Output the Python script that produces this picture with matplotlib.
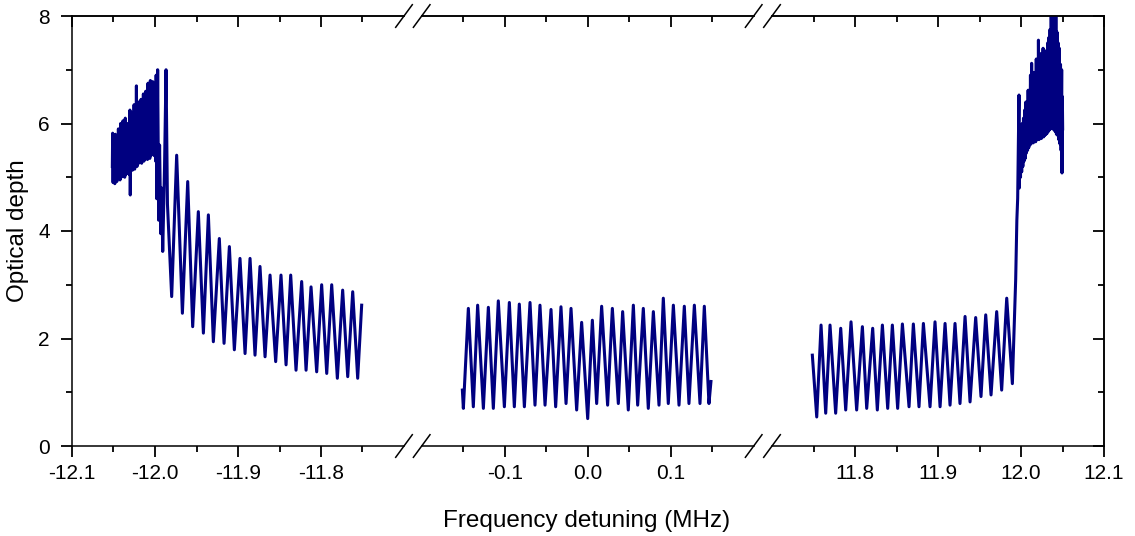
import matplotlib
matplotlib.use("Agg")
import matplotlib.pyplot as plt
from matplotlib.ticker import FixedLocator, FormatStrFormatter

plt.rcParams['font.family'] = ['Liberation Sans', 'DejaVu Sans']
plt.rcParams['axes.unicode_minus'] = False

# ---------------- data ----------------
seg1_x = [
    -12.0514, -12.0510, -12.0505, -12.0500, -12.0495, -12.0490, -12.0484, -12.0478, -12.0472, -12.0466,
    -12.0460, -12.0454, -12.0448, -12.0441, -12.0435, -12.0428, -12.0421, -12.0414, -12.0407, -12.0400,
    -12.0393, -12.0386, -12.0379, -12.0372, -12.0365, -12.0358, -12.0351, -12.0344, -12.0337, -12.0330,
    -12.0323, -12.0316, -12.0309, -12.0302, -12.0298, -12.0292, -12.0286, -12.0280, -12.0273, -12.0266,
    -12.0259, -12.0252, -12.0245, -12.0238, -12.0231, -12.0224, -12.0217, -12.0210, -12.0203, -12.0196,
    -12.0189, -12.0182, -12.0175, -12.0168, -12.0161, -12.0154, -12.0147, -12.0140, -12.0133, -12.0126,
    -12.0119, -12.0112, -12.0105, -12.0098, -12.0091, -12.0084, -12.0077, -12.0070, -12.0063, -12.0056,
    -12.0049, -12.0042, -12.0035, -12.0028, -12.0021, -12.0014, -12.0007, -12.0000, -11.9993, -11.9986,
    -11.9979, -11.9975, -11.9968, -11.9955, -11.9945, -11.9930, -11.9920, -11.9907, -11.9885, -11.9867,
    -11.9850, -11.9799, -11.9739, -11.9670, -11.9606, -11.9546, -11.9478, -11.9417, -11.9357, -11.9297,
    -11.9225, -11.9168, -11.9104, -11.9044, -11.8976, -11.8915, -11.8855, -11.8795, -11.8735, -11.8674,
    -11.8614, -11.8546, -11.8482, -11.8421, -11.8365, -11.8301, -11.8233, -11.8180, -11.8120, -11.8052,
    -11.7992, -11.7931, -11.7871, -11.7803, -11.7739, -11.7678, -11.7618, -11.7558, -11.7510,
]
seg1_y = [
    5.20, 5.82, 4.90, 5.75, 4.95, 5.55, 4.88, 5.80, 5.00, 5.60,
    4.92, 5.70, 4.98, 5.90, 5.05, 5.65, 4.95, 6.00, 5.00, 5.80,
    5.02, 6.05, 5.10, 5.85, 5.00, 6.10, 5.05, 5.90, 5.08, 6.00,
    5.12, 5.85, 5.05, 6.25, 4.67, 6.05, 5.15, 6.20, 5.13, 6.00,
    5.20, 6.35, 5.15, 6.10, 5.22, 6.70, 5.20, 6.20, 5.25, 6.40,
    5.28, 6.15, 5.30, 6.45, 5.26, 6.30, 5.32, 6.55, 5.30, 6.35,
    5.34, 6.60, 5.35, 6.40, 5.33, 6.75, 5.38, 6.50, 5.35, 6.80,
    5.40, 6.55, 5.44, 6.78, 5.42, 6.60, 5.40, 6.72, 5.30, 6.90,
    4.60, 5.30, 7.00, 4.20, 5.60, 3.95, 4.80, 3.62, 5.20, 7.00,
    4.50, 2.78, 5.41, 2.47, 4.92, 2.22, 4.36, 2.10, 4.30, 1.94,
    3.86, 1.91, 3.71, 1.79, 3.49, 1.72, 3.49, 1.69, 3.34, 1.66,
    3.18, 1.57, 3.18, 1.51, 3.18, 1.41, 3.06, 1.41, 2.96, 1.38,
    3.00, 1.35, 3.00, 1.26, 2.90, 1.29, 2.87, 1.26, 2.62,
]

seg2_x = [
    -0.1510, -0.1498, -0.1438, -0.1378, -0.1326, -0.1257, -0.1197, -0.1137, -0.1077, -0.1004,
    -0.0944, -0.0884, -0.0824, -0.0763, -0.0695, -0.0635, -0.0575, -0.0514, -0.0442, -0.0386,
    -0.0322, -0.0261, -0.0201, -0.0133, -0.0073, 0.0000, 0.0056, 0.0108, 0.0168, 0.0240,
    0.0297, 0.0369, 0.0421, 0.0489, 0.0550, 0.0602, 0.0670, 0.0730, 0.0791, 0.0859,
    0.0911, 0.0971, 0.1032, 0.1100, 0.1164, 0.1220, 0.1285, 0.1353, 0.1405, 0.1461,
    0.1485,
]
seg2_y = [
    1.04, 0.70, 2.56, 0.73, 2.62, 0.70, 2.58, 0.70, 2.70, 0.73,
    2.67, 0.73, 2.64, 0.73, 2.67, 0.76, 2.62, 0.76, 2.54, 0.73,
    2.59, 0.79, 2.56, 0.67, 2.30, 0.51, 2.34, 0.79, 2.60, 0.76,
    2.56, 0.79, 2.50, 0.67, 2.62, 0.76, 2.56, 0.70, 2.50, 0.76,
    2.75, 0.79, 2.62, 0.76, 2.60, 0.79, 2.62, 0.79, 2.60, 0.79,
    1.20,
]

seg3_x = [
    11.7486, 11.7539, 11.7591, 11.7647, 11.7699, 11.7767, 11.7828, 11.7888, 11.7952, 11.8020,
    11.8089, 11.8141, 11.8213, 11.8269, 11.8330, 11.8394, 11.8450, 11.8514, 11.8571, 11.8651,
    11.8703, 11.8771, 11.8824, 11.8904, 11.8964, 11.9025, 11.9085, 11.9145, 11.9205, 11.9265,
    11.9326, 11.9386, 11.9454, 11.9518, 11.9575, 11.9639, 11.9707, 11.9767, 11.9828, 11.9896,
    11.9936, 11.9950, 11.9960, 11.9968, 11.9976, 11.9980, 11.9988, 11.9994, 12.0000, 12.0008,
    12.0015, 12.0022, 12.0030, 12.0037, 12.0044, 12.0051, 12.0058, 12.0065, 12.0072, 12.0079,
    12.0086, 12.0093, 12.0100, 12.0107, 12.0114, 12.0121, 12.0128, 12.0135, 12.0142, 12.0149,
    12.0156, 12.0163, 12.0170, 12.0177, 12.0184, 12.0191, 12.0198, 12.0205, 12.0210, 12.0217,
    12.0224, 12.0231, 12.0238, 12.0245, 12.0252, 12.0259, 12.0266, 12.0273, 12.0280, 12.0287,
    12.0294, 12.0301, 12.0308, 12.0315, 12.0322, 12.0329, 12.0336, 12.0343, 12.0350, 12.0357,
    12.0364, 12.0371, 12.0378, 12.0385, 12.0392, 12.0399, 12.0406, 12.0413, 12.0420, 12.0427,
    12.0434, 12.0441, 12.0448, 12.0455, 12.0462, 12.0469, 12.0476, 12.0483, 12.0490, 12.0494,
    12.0498, 12.0502,
]
seg3_y = [
    1.69, 0.54, 2.25, 0.61, 2.25, 0.61, 2.19, 0.67, 2.31, 0.67,
    2.22, 0.70, 2.19, 0.67, 2.25, 0.70, 2.25, 0.70, 2.27, 0.73,
    2.27, 0.73, 2.28, 0.73, 2.31, 0.73, 2.28, 0.76, 2.28, 0.79,
    2.41, 0.82, 2.39, 0.92, 2.44, 0.95, 2.50, 1.04, 2.75, 1.16,
    3.10, 4.20, 4.61, 5.60, 6.53, 4.80, 5.60, 5.00, 5.90, 5.10,
    6.00, 5.20, 6.10, 5.30, 6.25, 5.35, 6.40, 5.45, 6.30, 5.50,
    6.62, 5.55, 6.50, 5.60, 6.90, 5.62, 7.12, 5.65, 6.70, 5.64,
    6.95, 5.68, 6.85, 5.66, 7.20, 5.70, 7.00, 5.72, 7.55, 5.70,
    7.10, 5.74, 7.30, 5.72, 7.20, 5.76, 7.40, 5.75, 7.15, 5.78,
    7.35, 5.80, 7.25, 5.82, 7.50, 5.85, 7.60, 5.88, 7.75, 5.90,
    8.30, 5.94, 7.90, 5.90, 8.30, 5.88, 7.80, 5.85, 8.30, 5.80,
    7.70, 5.78, 7.50, 5.70, 7.40, 5.62, 7.10, 5.50, 7.00, 5.08,
    6.50, 5.90,
]

seg_limits = [(-12.1, -11.70), (-0.2, 0.2), (11.70, 12.1)]
major_ticks = [[-12.1, -12.0, -11.9, -11.8], [-0.1, 0.0, 0.1], [11.8, 11.9, 12.0, 12.1]]
minor_ticks = [[-12.05, -11.95, -11.85, -11.75], [-0.15, -0.05, 0.05, 0.15],
               [11.75, 11.85, 11.95, 12.05]]
y_major = [0, 2, 4, 6, 8]
y_minor = [1, 3, 5, 7]
x_label = "Frequency detuning (MHz)"
y_label = "Optical depth"

# ---------------- figure ----------------
W, H = 1135, 536
fig = plt.figure(figsize=(W / 100, H / 100), dpi=100)

ax_w = 332
lefts = [72, 421.7, 772]
bottom_px, top_px = 446, 16
line_color = '#000080'
fs_tick = 15
fs_label = 17.5
spine_lw = 1.1
tick_lw = 1.3

axes = []
series = [(seg1_x, seg1_y), (seg2_x, seg2_y), (seg3_x, seg3_y)]
for i, (lp, (xs, ys)) in enumerate(zip(lefts, series)):
    ax = fig.add_axes([lp / W, (H - bottom_px) / H, ax_w / W, (bottom_px - top_px) / H])
    ax.plot(xs, ys, color=line_color, lw=2.2, solid_joinstyle='round')
    ax.set_xlim(*seg_limits[i])
    ax.set_ylim(0, 8)
    ax.xaxis.set_major_locator(FixedLocator(major_ticks[i]))
    ax.xaxis.set_minor_locator(FixedLocator(minor_ticks[i]))
    ax.xaxis.set_major_formatter(FormatStrFormatter('%.1f'))
    ax.yaxis.set_major_locator(FixedLocator(y_major))
    ax.yaxis.set_minor_locator(FixedLocator(y_minor))
    ax.tick_params(axis='x', which='major', direction='out', length=8, width=tick_lw,
                   labelsize=fs_tick, pad=5)
    ax.tick_params(axis='x', which='minor', direction='out', length=4.5, width=tick_lw)
    for s in ax.spines.values():
        s.set_linewidth(spine_lw)
    ax.spines['left'].set_visible(i == 0)
    ax.spines['right'].set_visible(i == 2)
    if i == 0:
        ax.tick_params(axis='y', which='major', direction='out', length=8, width=tick_lw,
                       labelsize=fs_tick, pad=8)
        ax.tick_params(axis='y', which='minor', direction='out', length=4.5, width=tick_lw)
    else:
        ax.tick_params(axis='y', which='both', left=False, labelleft=False)
    # mirrored top ticks (inward)
    sec = ax.secondary_xaxis('top')
    sec.xaxis.set_major_locator(FixedLocator(major_ticks[i]))
    sec.xaxis.set_minor_locator(FixedLocator(minor_ticks[i]))
    sec.tick_params(axis='x', which='major', direction='in', length=8, width=tick_lw, labeltop=False)
    sec.tick_params(axis='x', which='minor', direction='in', length=4.5, width=tick_lw)
    sec.spines['top'].set_linewidth(spine_lw)
    if i == 2:
        secy = ax.secondary_yaxis('right')
        secy.yaxis.set_major_locator(FixedLocator(y_major))
        secy.yaxis.set_minor_locator(FixedLocator(y_minor))
        secy.tick_params(axis='y', which='major', direction='in', length=8, width=tick_lw,
                         labelright=False)
        secy.tick_params(axis='y', which='minor', direction='in', length=4.5, width=tick_lw)
        secy.spines['right'].set_linewidth(spine_lw)
    axes.append(ax)

# break marks "//"
dxp, dyp = 8.3, 11.3
for i, ax in enumerate(axes):
    dx = dxp / ax_w
    dy = dyp / (bottom_px - top_px)
    ends = []
    if i > 0:
        ends.append(0)
    if i < 2:
        ends.append(1)
    for xe in ends:
        for ye in (0, 1):
            ax.plot([xe - dx, xe + dx], [ye - dy, ye + dy], transform=ax.transAxes,
                    color='black', lw=1.1, clip_on=False)

fig.text(587 / W, 1 - 521 / H, x_label, ha='center', va='center', fontsize=fs_label)
fig.text(18 / W, 1 - 231 / H, y_label, ha='center', va='center', rotation=90, fontsize=fs_label)

fig.savefig('out.png', dpi=100)
